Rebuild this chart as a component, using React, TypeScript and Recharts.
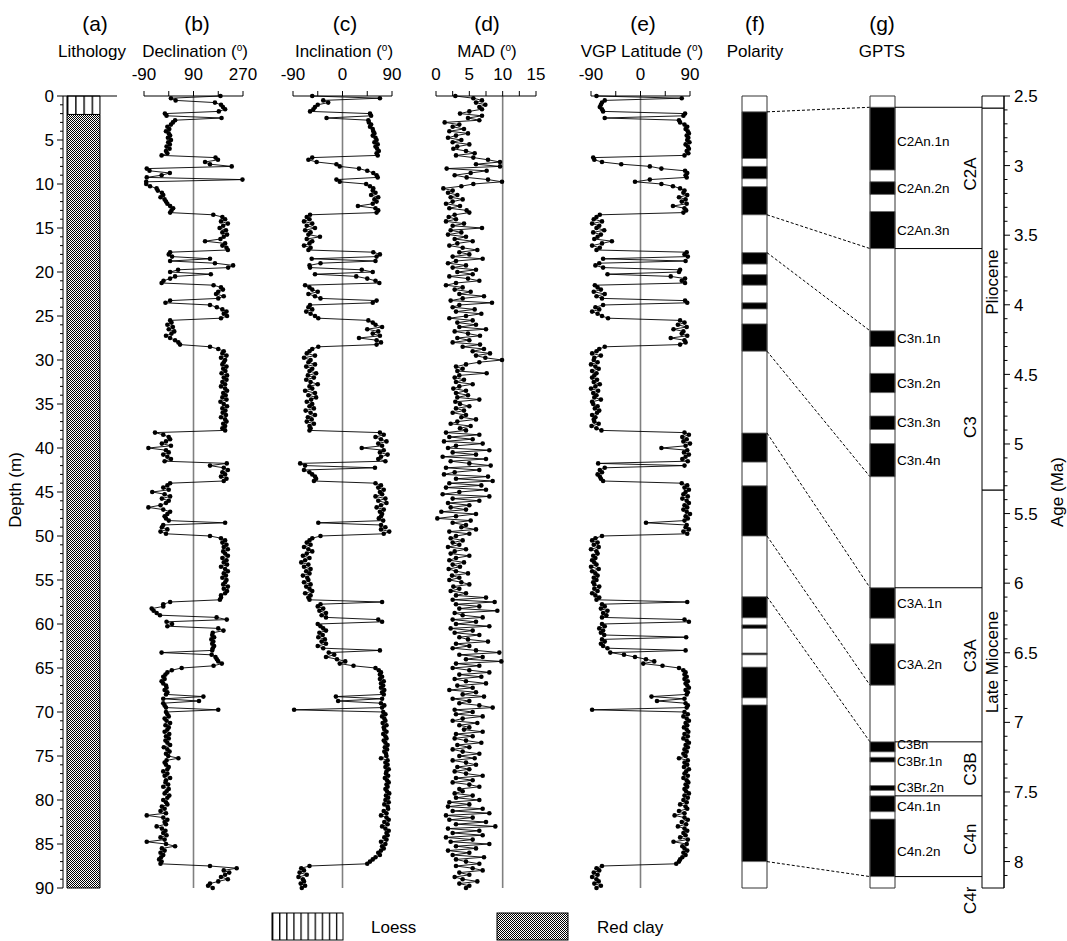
import React from 'react';
import { ScatterChart, Scatter, ComposedChart, XAxis, YAxis, ReferenceLine, ReferenceArea } from 'recharts';

const W = 1067;
const H = 941;
const PLOT_TOP = 96;
const PLOT_BOTTOM = 888;
const TOP_AXIS_H = 30;
const FONT = '"Liberation Sans", Arial, Helvetica, sans-serif';

// ---------------- data ----------------
const DEPTH = [
  0, 0.25, 0.5, 0.75, 1, 1.25, 1.5, 1.75, 2, 2.25, 2.5, 2.75, 3, 3.25, 3.5, 3.75, 4, 4.25, 4.5, 4.75,
  5, 5.25, 5.5, 5.75, 6, 6.25, 6.5, 6.75, 7, 7.25, 7.5, 7.75, 8, 8.25, 8.5, 8.75, 9, 9.25, 9.5, 9.75,
  10, 10.25, 10.5, 10.75, 11, 11.25, 11.5, 11.75, 12, 12.25, 12.5, 12.75, 13, 13.25, 13.5, 13.75, 14, 14.25, 14.5, 14.75,
  15, 15.25, 15.5, 15.75, 16, 16.25, 16.5, 16.75, 17, 17.25, 17.5, 17.75, 18, 18.25, 18.5, 18.75, 19, 19.25, 19.5, 19.75,
  20, 20.25, 20.5, 20.75, 21, 21.25, 21.5, 21.75, 22, 22.25, 22.5, 22.75, 23, 23.25, 23.5, 23.75, 24, 24.25, 24.5, 24.75,
  25, 25.25, 25.5, 25.75, 26, 26.25, 26.5, 26.75, 27, 27.25, 27.5, 27.75, 28, 28.25, 28.5, 28.75, 29, 29.25, 29.5, 29.75,
  30, 30.25, 30.5, 30.75, 31, 31.25, 31.5, 31.75, 32, 32.25, 32.5, 32.75, 33, 33.25, 33.5, 33.75, 34, 34.25, 34.5, 34.75,
  35, 35.25, 35.5, 35.75, 36, 36.25, 36.5, 36.75, 37, 37.25, 37.5, 37.75, 38, 38.25, 38.5, 38.75, 39, 39.25, 39.5, 39.75,
  40, 40.25, 40.5, 40.75, 41, 41.25, 41.5, 41.75, 42, 42.25, 42.5, 42.75, 43, 43.25, 43.5, 43.75, 44, 44.25, 44.5, 44.75,
  45, 45.25, 45.5, 45.75, 46, 46.25, 46.5, 46.75, 47, 47.25, 47.5, 47.75, 48, 48.25, 48.5, 48.75, 49, 49.25, 49.5, 49.75,
  50, 50.25, 50.5, 50.75, 51, 51.25, 51.5, 51.75, 52, 52.25, 52.5, 52.75, 53, 53.25, 53.5, 53.75, 54, 54.25, 54.5, 54.75,
  55, 55.25, 55.5, 55.75, 56, 56.25, 56.5, 56.75, 57, 57.25, 57.5, 57.75, 58, 58.25, 58.5, 58.75, 59, 59.25, 59.5, 59.75,
  60, 60.25, 60.5, 60.75, 61, 61.25, 61.5, 61.75, 62, 62.25, 62.5, 62.75, 63, 63.25, 63.5, 63.75, 64, 64.25, 64.5, 64.75,
  65, 65.25, 65.5, 65.75, 66, 66.25, 66.5, 66.75, 67, 67.25, 67.5, 67.75, 68, 68.25, 68.5, 68.75, 69, 69.25, 69.5, 69.75,
  70, 70.25, 70.5, 70.75, 71, 71.25, 71.5, 71.75, 72, 72.25, 72.5, 72.75, 73, 73.25, 73.5, 73.75, 74, 74.25, 74.5, 74.75,
  75, 75.25, 75.5, 75.75, 76, 76.25, 76.5, 76.75, 77, 77.25, 77.5, 77.75, 78, 78.25, 78.5, 78.75, 79, 79.25, 79.5, 79.75,
  80, 80.25, 80.5, 80.75, 81, 81.25, 81.5, 81.75, 82, 82.25, 82.5, 82.75, 83, 83.25, 83.5, 83.75, 84, 84.25, 84.5, 84.75,
  85, 85.25, 85.5, 85.75, 86, 86.25, 86.5, 86.75, 87, 87.25, 87.5, 87.75, 88, 88.25, 88.5, 88.75, 89, 89.25, 89.5, 89.75,
  90,
];

const DECLINATION = [
  188, 8, 25, 168, 190, 197, 205, 182, -14, -8, 192, 23, 15, 8, -5, 2, -10, 0, 5, -3,
  8, -2, 4, -8, 3, -10, -5, -26, 170, 179, 132, 150, 229, -80, -70, 4, -26, -80, 268, -82,
  -82, -68, -44, -40, -25, -20, -30, -15, -10, -5, 5, 16, 10, 5, 162, 195, 205, 190, 215, 198,
  185, 208, 195, 212, 200, 188, 132, 205, 195, 210, 215, 5, 0, 12, 150, 5, 168, 234, 216, 34,
  5, 153, 23, 5, -19, -26, 163, 190, 197, 180, 172, 200, 180, 5, -12, 150, 175, 195, 210, 200,
  212, 190, 5, 10, -5, 15, 0, 20, 10, -10, 5, 23, 35, 41, 150, 180, 200, 195, 210, 190,
  205, 200, 195, 210, 198, 206, 192, 212, 200, 210, 195, 205, 190, 205, 212, 198, 207, 195, 210, 188,
  200, 212, 195, 206, 196, 208, 190, 205, 210, 198, 205, 195, 205, -50, -20, 0, 5, -10, -25, 8,
  -74, -10, 0, -20, -5, 8, -15, 211, 150, 200, 215, 195, 205, 190, 210, 200, 5, -5, -20, 0,
  -60, -15, 5, -25, 0, -10, -30, -74, -20, 5, -5, -15, -10, 0, 205, -20, -25, -5, -30, -10,
  150, 190, 205, 195, 210, 200, 215, 198, 205, 215, 195, 210, 200, 212, 190, 205, 215, 200, 208, 195,
  210, 205, 198, 215, 200, 212, 205, 190, 190, 186, 5, -20, -20, -62, -55, -44, -32, 174, 211, -8,
  12, -5, 180, 199, 160, 158, 165, 155, 162, 158, 165, 160, 158, -26, 156, 170, 175, 180, 193, 163,
  47, 11, -5, -12, -20, -15, -26, -20, -10, -8, -15, -5, -10, 126, -20, 110, -20, -15, -10, 180,
  -10, -5, 0, -15, -8, 5, -12, 0, -5, -15, 2, -10, 0, -12, -5, 5, -18, -5, 3, -10,
  -2, 35, -8, -15, -10, 0, -5, -20, -5, -15, 5, -10, -12, -2, -20, 0, -8, -15, 2, -5,
  -20, -10, -5, -25, -15, -30, -10, -80, -20, -5, -15, -10, -44, -25, -12, -20, -8, -30, -15, -80,
  -10, 23, -25, -15, -30, -20, -28, -35, -26, -30, 150, 247, 200, 220, 205, 190, 215, 180, 150, 143,
  160,
];

const INCLINATION = [
  -55, 68, -35, -26, -45, -50, -53, -59, 50, 52, -29, 47, 48, 52, 50, 55, 56, 58, 55, 60,
  62, 58, 64, 60, 63, 66, 62, 64, -55, -62, -47, -11, -5, 30, 45, 56, 62, 64, -11, -5,
  43, 50, 56, 55, 60, 52, 65, 58, 62, 55, 28, 60, 65, 62, -59, -65, -60, -70, -55, -65,
  -50, -68, -58, -62, -41, -65, -55, -60, -70, -58, -62, 56, 68, 62, -56, 60, -40, -60, -59, 35,
  55, -50, 25, 45, 60, 67, -68, -60, -55, -45, -62, -50, -40, 62, 55, -59, -62, -55, -66, -58,
  -50, -44, 47, 55, 60, 72, 45, 65, 55, 68, 30, 62, 70, 62, -44, -55, -60, -65, -50, -70,
  -58, -62, -50, -66, -55, -60, -48, -63, -52, -66, -58, -45, -60, -55, -68, -50, -62, -48, -57, -65,
  -55, -60, -52, -67, -58, -50, -63, -56, -65, -52, -60, -58, -60, 68, 75, 60, 70, 80, 65, 72,
  35, 75, 68, 82, 70, 65, 78, -77, -68, 59, -70, -60, -55, -50, -48, -52, 60, 70, 65, 75,
  68, 72, 60, 78, 65, 80, 70, 62, 75, 68, 72, 70, 66, 74, -44, 70, 78, 70, 85, 75,
  -40, -55, -60, -65, -58, -70, -62, -55, -65, -72, -60, -68, -75, -62, -70, -58, -66, -60, -72, -64,
  -62, -70, -58, -66, -60, -55, -68, -58, -62, -60, 72, -40, -45, -35, -42, -30, -38, -30, 65, 72,
  -45, -40, -35, -30, -42, -36, -44, -32, -38, -30, -45, -35, 68, -25, -15, -30, -10, 5, -5, 20,
  60, 66, 70, 68, 72, 68, 75, 70, 74, 70, 76, 72, 75, -12, 72, -8, 70, 76, 72, -88,
  74, 78, 72, 76, 78, 73, 80, 75, 76, 80, 74, 78, 80, 75, 78, 82, 77, 81, 76, 79,
  80, 70, 82, 78, 82, 78, 84, 80, 79, 83, 77, 81, 84, 80, 82, 78, 81, 85, 79, 83,
  78, 84, 76, 82, 83, 75, 80, 70, 80, 84, 76, 82, 72, 78, 84, 80, 82, 76, 80, 70,
  78, 72, 75, 70, 65, 68, 60, 55, 50, 45, -60, -75, -70, -78, -65, -80, -72, -70, -76, -68,
  -74,
];

const MAD = [
  2.9, 5.6, 6.9, 6.0, 7.4, 6.5, 6.9, 5.0, 3.6, 6.9, 4.8, 6.5, 1.3, 3.5, 2.5, 4.2, 2.0, 4.8, 3.0, 1.8,
  3.8, 2.5, 5.0, 3.2, 2.6, 4.5, 5.8, 3.0, 5.6, 7.8, 9.6, 6.0, 9.6, 1.6, 7.6, 5.2, 2.8, 4.6, 7.8, 9.9,
  5.6, 3.8, 1.1, 2.5, 1.8, 3.2, 2.2, 4.0, 2.5, 1.5, 3.6, 2.0, 4.6, 5.0, 2.8, 1.9, 3.0, 1.5, 4.2, 2.5,
  6.9, 2.2, 3.8, 1.8, 4.5, 2.8, 5.5, 3.2, 2.0, 4.0, 6.2, 3.5, 5.0, 2.5, 7.0, 3.0, 1.8, 4.5, 2.5, 6.0,
  3.2, 5.5, 2.0, 4.8, 6.5, 3.0, 1.5, 4.0, 2.8, 5.2, 3.5, 7.2, 4.0, 2.2, 8.4, 3.5, 2.5, 5.8, 3.0, 6.8,
  4.5, 2.0, 5.5, 3.2, 6.0, 3.5, 7.5, 2.8, 4.8, 6.6, 3.2, 5.0, 2.5, 6.6, 4.0, 7.2, 5.5, 8.1, 6.0, 7.4,
  9.9, 6.5, 4.5, 3.0, 4.0, 3.2, 7.6, 3.5, 2.8, 4.2, 3.0, 5.5, 3.5, 2.6, 4.5, 3.0, 4.8, 3.2, 6.5, 2.9,
  3.6, 5.0, 3.0, 4.2, 2.5, 4.5, 3.8, 6.0, 3.2, 2.2, 5.2, 3.6, 4.5, 1.5, 6.5, 2.0, 5.5, 1.2, 7.0, 3.0,
  1.8, 8.0, 2.5, 6.0, 1.0, 7.5, 2.2, 5.0, 8.2, 1.5, 6.5, 2.8, 1.2, 7.8, 3.0, 8.5, 2.0, 6.8, 1.5, 7.5,
  3.5, 1.0, 8.0, 2.5, 6.5, 1.8, 5.0, 2.2, 4.5, 0.8, 6.0, 3.0, 0.2, 5.2, 2.5, 4.5, 3.8, 6.0, 2.0, 5.0,
  3.0, 2.2, 4.0, 2.5, 3.5, 1.8, 4.5, 2.8, 2.2, 5.0, 3.0, 2.0, 4.2, 2.5, 3.6, 1.9, 3.0, 4.8, 2.4, 3.5,
  2.0, 3.8, 5.0, 2.6, 3.5, 2.2, 4.5, 3.0, 7.5, 2.5, 8.8, 3.0, 6.5, 3.5, 9.2, 2.8, 4.0, 7.0, 2.5, 6.0,
  3.0, 8.0, 2.2, 5.5, 2.8, 6.5, 3.5, 4.8, 7.8, 3.0, 5.0, 2.5, 6.0, 9.5, 3.5, 7.0, 4.5, 9.8, 3.0, 6.5,
  2.5, 5.0, 8.0, 3.5, 6.8, 2.8, 4.5, 7.5, 3.2, 5.5, 2.0, 6.0, 4.0, 7.2, 2.5, 5.0, 3.5, 6.5, 8.5, 2.8,
  5.5, 3.0, 7.0, 4.0, 2.5, 6.2, 3.5, 5.0, 4.2, 7.0, 3.0, 5.5, 2.8, 4.5, 6.8, 3.2, 5.0, 2.5, 4.0, 6.5,
  3.5, 5.8, 2.5, 4.5, 6.0, 3.2, 5.0, 2.8, 4.5, 7.0, 3.0, 5.5, 2.5, 5.0, 6.5, 3.5, 4.0, 2.8, 5.5, 3.0,
  6.5, 2.0, 5.0, 1.8, 7.0, 2.5, 8.0, 1.5, 5.5, 2.0, 7.5, 3.0, 8.9, 1.8, 6.5, 2.5, 7.0, 1.5, 5.5, 2.2,
  8.0, 3.0, 6.0, 1.8, 5.0, 2.5, 7.2, 3.0, 4.5, 6.5, 3.0, 5.5, 7.0, 3.5, 5.0, 2.8, 4.0, 6.2, 3.5, 5.0,
  4.5,
];

const VGP_LATITUDE = [
  -80, 75, -65, -70, -72, -74, -70, -68, 81, 78, -65, 70, 72, 80, 85, 82, 86, 88, 84, 87,
  85, 89, 82, 86, 88, 84, 87, 80, -86, -84, -70, -35, 17, 38, 81, 85, 82, 84, 17, -10,
  38, 59, 72, 80, 78, 85, 70, 82, 75, 84, 59, 80, 83, 78, -74, -80, -85, -70, -88, -75,
  -80, -66, -86, -72, -78, -84, -52, -70, -88, -74, -80, 84, 80, 86, -68, 82, -75, -82, -68, 72,
  70, -60, 55, 81, 75, 81, -83, -78, -72, -85, -65, -80, -70, 81, 85, -68, -82, -75, -88, -78,
  -70, -59, 72, 80, 68, 84, 60, 78, 75, 85, 55, 80, 82, 72, -65, -75, -80, -88, -72, -84,
  -85, -78, -90, -82, -76, -88, -80, -84, -88, -79, -85, -74, -82, -90, -77, -86, -80, -84, -72, -88,
  -86, -78, -83, -75, -79, -88, -82, -85, -84, -76, -89, -80, -71, 80, 88, 76, 84, 78, 90, 82,
  38, 85, 79, 88, 82, 76, 86, -77, 80, -65, -74, -70, -78, -74, -72, -68, 75, 85, 80, 88,
  82, 78, 86, 76, 84, 88, 80, 85, 78, 84, 90, 82, 86, 80, 10, 84, 82, 88, 78, 85,
  -70, -82, -88, -78, -85, -76, -90, -80, -78, -86, -82, -88, -84, -80, -90, -76, -88, -82, -78, -85,
  -80, -86, -84, -75, -84, -78, -88, -82, -75, -80, 85, -70, -65, -72, -60, -68, -62, -70, 80, 88,
  -70, -65, -75, -68, -72, -66, 83, -70, -65, -72, -68, -60, 82, -55, -30, -10, 10, 25, 5, 40,
  70, 78, 82, 80, 84, 80, 86, 82, 85, 88, 82, 86, 84, 20, 80, 30, 82, 86, 84, -88,
  80, 86, 78, 84, 88, 82, 85, 79, 84, 87, 80, 86, 78, 84, 88, 82, 86, 80, 84, 78,
  82, 70, 86, 80, 85, 79, 88, 83, 80, 86, 78, 84, 87, 82, 85, 80, 83, 88, 80, 86,
  78, 84, 72, 82, 85, 70, 80, 62, 80, 86, 75, 83, 68, 80, 85, 78, 82, 72, 86, 60,
  84, 76, 80, 85, 78, 82, 76, 72, 70, 65, -70, -80, -75, -85, -78, -88, -80, -76, -84, -72,
  -80,
];

// Depth axis ticks
const DEPTH_TICKS = [
  0, 1, 2, 3, 4, 5, 6, 7, 8, 9, 10, 11, 12, 13, 14, 15, 16, 17, 18, 19, 20, 21, 22, 23, 24, 25, 26, 27, 28, 29,
  30, 31, 32, 33, 34, 35, 36, 37, 38, 39, 40, 41, 42, 43, 44, 45, 46, 47, 48, 49, 50, 51, 52, 53, 54, 55, 56, 57, 58, 59,
  60, 61, 62, 63, 64, 65, 66, 67, 68, 69, 70, 71, 72, 73, 74, 75, 76, 77, 78, 79, 80, 81, 82, 83, 84, 85, 86, 87, 88, 89, 90,
];
const DEPTH_LABELS = [0, 5, 10, 15, 20, 25, 30, 35, 40, 45, 50, 55, 60, 65, 70, 75, 80, 85, 90];

// Age axis ticks
const AGE_TICKS = [
  2.5, 2.6, 2.7, 2.8, 2.9, 3, 3.1, 3.2, 3.3, 3.4, 3.5, 3.6, 3.7, 3.8, 3.9, 4, 4.1, 4.2, 4.3, 4.4,
  4.5, 4.6, 4.7, 4.8, 4.9, 5, 5.1, 5.2, 5.3, 5.4, 5.5, 5.6, 5.7, 5.8, 5.9, 6, 6.1, 6.2, 6.3, 6.4,
  6.5, 6.6, 6.7, 6.8, 6.9, 7, 7.1, 7.2, 7.3, 7.4, 7.5, 7.6, 7.7, 7.8, 7.9, 8, 8.1,
];
const AGE_LABELS = [2.5, 3, 3.5, 4, 4.5, 5, 5.5, 6, 6.5, 7, 7.5, 8];

// Panel axes
const DEC_TICKS = [-90, 0, 90, 180, 270];
const DEC_LABELS = [-90, 90, 270];
const INC_TICKS = [-90, -45, 0, 45, 90];
const INC_LABELS = [-90, 0, 90];
const MAD_TICKS = [0, 2.5, 5, 7.5, 10, 12.5, 15];
const MAD_LABELS = [0, 5, 10, 15];
const VGP_TICKS = [-90, -45, 0, 45, 90];
const VGP_LABELS = [-90, 0, 90];

// Lithology (depth in m)
const LITH_NAMES = ['Loess', 'Red clay'];
const LITH_TOP = [0, 2.1];
const LITH_BOTTOM = [2.1, 90];
const LITH_PATTERN = ['loess', 'redclay'];

// Polarity column: normal-polarity intervals (depth, m)
const POLARITY_TOP = [1.8, 8.0, 10.3, 17.8, 20.3, 23.5, 25.9, 38.3, 44.3, 56.9, 60.1, 63.3, 64.9, 69.2];
const POLARITY_BOTTOM = [7.1, 9.4, 13.5, 19.1, 21.5, 24.2, 29.0, 41.6, 50.0, 59.3, 60.5, 63.5, 68.4, 87.0];

// GPTS normal chrons (Ma)
const CHRON_NAMES = ['C2An.1n', 'C2An.2n', 'C2An.3n', 'C3n.1n', 'C3n.2n', 'C3n.3n', 'C3n.4n', 'C3A.1n', 'C3A.2n', 'C3Bn', 'C3Br.1n', 'C3Br.2n', 'C4n.1n', 'C4n.2n'];
const CHRON_TOP = [2.581, 3.116, 3.33, 4.187, 4.493, 4.799, 4.997, 6.033, 6.436, 7.14, 7.251, 7.454, 7.528, 7.695];
const CHRON_BOTTOM = [3.032, 3.207, 3.596, 4.3, 4.631, 4.896, 5.235, 6.252, 6.733, 7.212, 7.285, 7.489, 7.642, 8.108];

// Chron groups
const GROUP_NAMES = ['C2A', 'C3', 'C3A', 'C3B', 'C4n', 'C4r'];
const GROUP_TOP = [2.581, 3.596, 6.033, 7.14, 7.528, 8.108];
const GROUP_BOTTOM = [3.596, 6.033, 7.14, 7.528, 8.108, 8.19];
const GROUP_LINES = [2.581, 3.596, 6.033, 7.14, 7.528, 8.108];

// Epochs
const EPOCH_NAMES = ['', 'Pliocene', 'Late Miocene'];
const EPOCH_TOP = [2.5, 2.588, 5.332];
const EPOCH_BOTTOM = [2.588, 5.332, 8.19];

// Tie lines: polarity depth (m) -> GPTS age (Ma)
const TIE_DEPTH = [1.8, 13.5, 17.8, 29.0, 38.3, 50.0, 56.9, 87.0];
const TIE_AGE = [2.581, 3.596, 4.187, 5.235, 6.033, 6.733, 7.14, 8.108];

// ---------------- layout ----------------
const DEPTH_DOMAIN: [number, number] = [0, 90];
const AGE_DOMAIN: [number, number] = [2.5, 8.19];
const LITH_PLOT = [63, 117];
const LITH_COL = [0.074, 0.685];
const DEPTH_AXIS_W = 45;
const DEC_PLOT = [144, 243];
const INC_PLOT = [293, 392];
const MAD_PLOT = [436, 536];
const VGP_PLOT = [591, 690];
const POL_PLOT = [742, 767];
const GPTS_PLOT = [870, 895];
const CHRON_PLOT = [895, 982];
const EPOCH_PLOT = [982, 1004];
const AGE_AXIS_W = 55;
const CHRON_LABEL_DY: Record<string, number> = { 'C2An.1n': 3, C3Bn: -1.5, 'C3Br.1n': 2.5, 'C4n.1n': 3, 'C4n.2n': 4 };
const CHRON_LABEL_SIZE: Record<string, number> = { C3Bn: 12.5, 'C3Br.1n': 12.5, 'C3Br.2n': 13 };
const GROUP_LABEL_DY: Record<string, number> = { C2A: -4, C3: 9, C3A: -9, C3B: 0, C4n: 3, C4r: 18 };
const EPOCH_LABEL_DY: Record<string, number> = { Pliocene: -17, 'Late Miocene': -27 };

const abs: React.CSSProperties = { position: 'absolute', left: 0, top: 0 };

const Dot = (p: any) => <circle cx={p.cx} cy={p.cy} r={2.3} fill="#000" />;
const NoShape = () => <g />;

const TopTick = (p: any) => {
  const v = p.payload?.value;
  if (!p.labels.includes(v)) return <g />;
  return (
    <text x={p.x} y={p.y} textAnchor="middle" fontSize={17} fontFamily={FONT} fill="#000">
      {v}
    </text>
  );
};

const DepthTick = (p: any) => {
  const v = p.payload?.value;
  const major = DEPTH_LABELS.includes(v);
  return (
    <g>
      <line x1={p.x} x2={p.x - (major ? 6 : 3)} y1={p.y} y2={p.y} stroke="#000" strokeWidth={1} />
      {major && (
        <text x={p.x - 9} y={p.y} dy="0.36em" textAnchor="end" fontSize={17} fontFamily={FONT} fill="#000">
          {v}
        </text>
      )}
    </g>
  );
};

const AgeTick = (p: any) => {
  const v = p.payload?.value;
  const major = AGE_LABELS.includes(v);
  return (
    <g>
      <line x1={p.x} x2={p.x + (major ? 6 : 3.5)} y1={p.y} y2={p.y} stroke="#000" strokeWidth={1} />
      {major && (
        <text x={p.x + 10} y={p.y} dy="0.36em" textAnchor="start" fontSize={17} fontFamily={FONT} fill="#000">
          {v}
        </text>
      )}
    </g>
  );
};

type PanelProps = {
  plot: number[];
  values: number[];
  domain: [number, number];
  ticks: number[];
  labels: number[];
  refX: number;
};

function DataPanel({ plot, values, domain, ticks, labels, refX }: PanelProps) {
  const data = DEPTH.map((d, i) => ({ depth: d, v: values[i] }));
  return (
    <div style={abs}>
      <ScatterChart
        width={W}
        height={H}
        margin={{ top: PLOT_TOP - TOP_AXIS_H, bottom: H - PLOT_BOTTOM, left: plot[0], right: W - plot[1] }}
      >
        <XAxis
          type="number"
          dataKey="v"
          domain={domain}
          ticks={ticks}
          interval={0}
          orientation="top"
          height={TOP_AXIS_H}
          tickSize={5}
          tickMargin={11}
          axisLine={{ stroke: '#000', strokeWidth: 1 }}
          tickLine={{ stroke: '#000', strokeWidth: 1 }}
          tick={<TopTick labels={labels} />}
        />
        <YAxis type="number" dataKey="depth" domain={DEPTH_DOMAIN} reversed hide />
        <ReferenceLine x={refX} stroke="#808080" strokeWidth={1.6} />
        <Scatter data={data} shape={Dot} line={{ stroke: '#000', strokeWidth: 0.9 }} isAnimationActive={false} />
      </ScatterChart>
    </div>
  );
}

// invisible series that registers the axes' extent (draws nothing)
function extentSeries(yDomain: [number, number]) {
  return (
    <Scatter
      key="extent"
      data={[
        { x: 0, y: yDomain[0] },
        { x: 1, y: yDomain[1] },
      ]}
      shape={NoShape}
      isAnimationActive={false}
    />
  );
}

function hiddenAxes(yDomain: [number, number]) {
  return [
    <XAxis key="x" type="number" dataKey="x" domain={[0, 1]} hide />,
    <YAxis key="y" type="number" dataKey="y" domain={yDomain} reversed hide />,
  ];
}

const ageAsDepth = (a: number) =>
  ((a - AGE_DOMAIN[0]) / (AGE_DOMAIN[1] - AGE_DOMAIN[0])) * (DEPTH_DOMAIN[1] - DEPTH_DOMAIN[0]) + DEPTH_DOMAIN[0];

const DegTitle = ({ x, y, text }: { x: number; y: number; text: string }) => (
  <text x={x} y={y} textAnchor="middle" fontSize={17} fontFamily={FONT} fill="#000">
    {text} (
    <tspan fontSize={10} dy={-6}>
      o
    </tspan>
    <tspan dy={6}>)</tspan>
  </text>
);

export default function App() {
  return (
    <div style={{ position: 'relative', width: W, height: H, background: '#fff', overflow: 'hidden' }}>
      <style>{'body{margin:0;background:#fff}'}</style>
      <svg width={0} height={0} style={{ position: 'absolute' }}>
        <defs>
          <pattern id="loess" patternUnits="userSpaceOnUse" width={8.2} height={10} x={67} y={0}>
            <rect width={8.2} height={10} fill="#fff" />
            <line x1={0.6} x2={0.6} y1={0} y2={10} stroke="#000" strokeWidth={1.6} />
          </pattern>
          <pattern id="loessLegend" patternUnits="userSpaceOnUse" width={7.1} height={10} x={272} y={0}>
            <rect width={7.1} height={10} fill="#fff" />
            <line x1={0.6} x2={0.6} y1={0} y2={10} stroke="#000" strokeWidth={1.4} />
          </pattern>
          <pattern id="redclay" patternUnits="userSpaceOnUse" width={2} height={2}>
            <rect width={2} height={2} fill="#fff" />
            <rect x={0} y={0} width={1} height={1} fill="#000" />
            <rect x={1} y={1} width={1} height={1} fill="#000" />
          </pattern>
        </defs>
      </svg>

      {/* (a) Lithology with depth axis */}
      <div style={abs}>
        <ComposedChart
          width={W}
          height={H}
          margin={{ top: PLOT_TOP, bottom: H - PLOT_BOTTOM, left: LITH_PLOT[0] - DEPTH_AXIS_W, right: W - LITH_PLOT[1] }}
        >
          <XAxis type="number" dataKey="x" domain={[0, 1]} hide />
          <YAxis
            type="number"
            dataKey="y"
            domain={DEPTH_DOMAIN}
            reversed
            width={DEPTH_AXIS_W}
            ticks={DEPTH_TICKS}
            interval={0}
            tickSize={0}
            tickMargin={0}
            tickLine={false}
            axisLine={{ stroke: '#000', strokeWidth: 1 }}
            tick={<DepthTick />}
          />
          {extentSeries(DEPTH_DOMAIN)}
          {LITH_NAMES.map((n, i) => (
            <ReferenceArea
              key={n}
              x1={LITH_COL[0]}
              x2={LITH_COL[1]}
              y1={LITH_TOP[i]}
              y2={LITH_BOTTOM[i]}
              fill={`url(#${LITH_PATTERN[i]})`}
              fillOpacity={1}
              stroke="#000"
              strokeWidth={1}
            />
          ))}
          <ReferenceLine y={0} stroke="#000" strokeWidth={1} />
        </ComposedChart>
      </div>

      <DataPanel plot={DEC_PLOT} values={DECLINATION} domain={[-90, 270]} ticks={DEC_TICKS} labels={DEC_LABELS} refX={90} />
      <DataPanel plot={INC_PLOT} values={INCLINATION} domain={[-90, 90]} ticks={INC_TICKS} labels={INC_LABELS} refX={0} />
      <DataPanel plot={MAD_PLOT} values={MAD} domain={[0, 15]} ticks={MAD_TICKS} labels={MAD_LABELS} refX={10} />
      <DataPanel plot={VGP_PLOT} values={VGP_LATITUDE} domain={[-90, 90]} ticks={VGP_TICKS} labels={VGP_LABELS} refX={0} />

      {/* (f) Polarity */}
      <div style={abs}>
        <ComposedChart
          width={W}
          height={H}
          margin={{ top: PLOT_TOP, bottom: H - PLOT_BOTTOM, left: POL_PLOT[0], right: W - POL_PLOT[1] }}
        >
          {hiddenAxes(DEPTH_DOMAIN)}
          {extentSeries(DEPTH_DOMAIN)}
          {POLARITY_TOP.map((t, i) => (
            <ReferenceArea key={i} y1={t} y2={POLARITY_BOTTOM[i]} fill="#000" fillOpacity={1} stroke="#666" strokeWidth={0.8} />
          ))}
          <ReferenceArea y1={DEPTH_DOMAIN[0]} y2={DEPTH_DOMAIN[1]} fill="none" fillOpacity={0} stroke="#333" strokeWidth={1} />
        </ComposedChart>
      </div>

      {/* tie lines */}
      <div style={abs}>
        <ComposedChart
          width={W}
          height={H}
          margin={{ top: PLOT_TOP, bottom: H - PLOT_BOTTOM, left: POL_PLOT[1], right: W - GPTS_PLOT[0] }}
        >
          {hiddenAxes(DEPTH_DOMAIN)}
          {extentSeries(DEPTH_DOMAIN)}
          {TIE_DEPTH.map((d, i) => (
            <ReferenceLine
              key={i}
              segment={[
                { x: 0, y: d },
                { x: 1, y: ageAsDepth(TIE_AGE[i]) },
              ]}
              stroke="#000"
              strokeWidth={1}
              strokeDasharray="3 2"
              ifOverflow="visible"
            />
          ))}
        </ComposedChart>
      </div>

      {/* (g) GPTS column */}
      <div style={abs}>
        <ComposedChart
          width={W}
          height={H}
          margin={{ top: PLOT_TOP, bottom: H - PLOT_BOTTOM, left: GPTS_PLOT[0], right: W - GPTS_PLOT[1] }}
        >
          {hiddenAxes(AGE_DOMAIN)}
          {extentSeries(AGE_DOMAIN)}
          {CHRON_TOP.map((t, i) => (
            <ReferenceArea key={i} y1={t} y2={CHRON_BOTTOM[i]} fill="#000" fillOpacity={1} stroke="#666" strokeWidth={0.8} />
          ))}
          <ReferenceArea y1={AGE_DOMAIN[0]} y2={AGE_DOMAIN[1]} fill="none" fillOpacity={0} stroke="#333" strokeWidth={1} />
        </ComposedChart>
      </div>

      {/* chron labels */}
      <div style={abs}>
        <ComposedChart
          width={W}
          height={H}
          margin={{ top: PLOT_TOP, bottom: H - PLOT_BOTTOM, left: CHRON_PLOT[0], right: W - CHRON_PLOT[1] }}
        >
          {hiddenAxes(AGE_DOMAIN)}
          {extentSeries(AGE_DOMAIN)}
          {GROUP_LINES.map((a) => (
            <ReferenceLine key={a} y={a} stroke="#000" strokeWidth={1} />
          ))}
          {CHRON_NAMES.map((n, i) => (
            <ReferenceArea
              key={n}
              y1={CHRON_TOP[i]}
              y2={CHRON_BOTTOM[i]}
              fill="none"
              fillOpacity={0}
              stroke="none"
              ifOverflow="visible"
              label={(lp: any) => {
                const vb = lp.viewBox || {};
                return (
                  <text
                    x={vb.x + 2}
                    y={vb.y + vb.height / 2 + (CHRON_LABEL_DY[n] || 0)}
                    dominantBaseline="central"
                    fontSize={CHRON_LABEL_SIZE[n] || 13.5}
                    fontFamily={FONT}
                    fill="#000"
                  >
                    {n}
                  </text>
                );
              }}
            />
          ))}
          {GROUP_NAMES.map((n, i) => (
            <ReferenceArea
              key={n}
              y1={GROUP_TOP[i]}
              y2={GROUP_BOTTOM[i]}
              fill="none"
              fillOpacity={0}
              stroke="none"
              ifOverflow="visible"
              label={(lp: any) => {
                const vb = lp.viewBox || {};
                const cx = vb.x + vb.width - 11;
                const cy = vb.y + vb.height / 2 + (GROUP_LABEL_DY[n] || 0);
                return (
                  <text
                    x={cx}
                    y={cy}
                    transform={`rotate(-90 ${cx} ${cy})`}
                    textAnchor="middle"
                    dominantBaseline="central"
                    fontSize={17}
                    fontFamily={FONT}
                    fill="#000"
                  >
                    {n}
                  </text>
                );
              }}
            />
          ))}
        </ComposedChart>
      </div>

      {/* epochs + age axis */}
      <div style={abs}>
        <ComposedChart
          width={W}
          height={H}
          margin={{ top: PLOT_TOP, bottom: H - PLOT_BOTTOM, left: EPOCH_PLOT[0], right: W - EPOCH_PLOT[1] - AGE_AXIS_W }}
        >
          <XAxis type="number" dataKey="x" domain={[0, 1]} hide />
          <YAxis
            type="number"
            dataKey="y"
            domain={AGE_DOMAIN}
            reversed
            orientation="right"
            width={AGE_AXIS_W}
            ticks={AGE_TICKS}
            interval={0}
            tickSize={0}
            tickMargin={0}
            tickLine={false}
            axisLine={{ stroke: '#000', strokeWidth: 1 }}
            tick={<AgeTick />}
          />
          {extentSeries(AGE_DOMAIN)}
          {EPOCH_NAMES.map((n, i) => (
            <ReferenceArea
              key={i}
              y1={EPOCH_TOP[i]}
              y2={EPOCH_BOTTOM[i]}
              fill="#fff"
              fillOpacity={1}
              stroke="#000"
              strokeWidth={1}
              label={(lp: any) => {
                if (!n) return <g />;
                const vb = lp.viewBox || {};
                const cx = vb.x + vb.width / 2;
                const cy = vb.y + vb.height / 2 + (EPOCH_LABEL_DY[n] || 0);
                return (
                  <text
                    x={cx}
                    y={cy}
                    transform={`rotate(-90 ${cx} ${cy})`}
                    textAnchor="middle"
                    dominantBaseline="central"
                    fontSize={17}
                    fontFamily={FONT}
                    fill="#000"
                  >
                    {n}
                  </text>
                );
              }}
            />
          ))}
        </ComposedChart>
      </div>

      {/* titles, axis names, legend */}
      <svg width={W} height={H} style={{ ...abs, pointerEvents: 'none' }}>
        <g fontFamily={FONT} fill="#000">
          <text x={95} y={31} textAnchor="middle" fontSize={21}>(a)</text>
          <text x={197} y={31} textAnchor="middle" fontSize={21}>(b)</text>
          <text x={345} y={31} textAnchor="middle" fontSize={21}>(c)</text>
          <text x={487} y={31} textAnchor="middle" fontSize={21}>(d)</text>
          <text x={643} y={31} textAnchor="middle" fontSize={21}>(e)</text>
          <text x={755} y={31} textAnchor="middle" fontSize={21}>(f)</text>
          <text x={882} y={31} textAnchor="middle" fontSize={21}>(g)</text>
          <text x={92} y={57} textAnchor="middle" fontSize={17}>Lithology</text>
          <DegTitle x={195} y={57} text="Declination" />
          <DegTitle x={344} y={57} text="Inclination" />
          <DegTitle x={487} y={57} text="MAD" />
          <DegTitle x={642} y={57} text="VGP Latitude" />
          <text x={755} y={57} textAnchor="middle" fontSize={17}>Polarity</text>
          <text x={882} y={57} textAnchor="middle" fontSize={17}>GPTS</text>
          <text x={15} y={490} transform="rotate(-90 15 490)" textAnchor="middle" dominantBaseline="central" fontSize={17}>
            Depth (m)
          </text>
          <text x={1057} y={492} transform="rotate(-90 1057 492)" textAnchor="middle" dominantBaseline="central" fontSize={17}>
            Age (Ma)
          </text>
          <rect x={272} y={913} width={71} height={27} fill="url(#loessLegend)" stroke="#000" strokeWidth={1} />
          <text x={371} y={927} dominantBaseline="central" fontSize={17}>{LITH_NAMES[0]}</text>
          <rect x={497} y={913} width={71} height={27} fill="url(#redclay)" stroke="#000" strokeWidth={1} />
          <text x={597} y={927} dominantBaseline="central" fontSize={17}>{LITH_NAMES[1]}</text>
        </g>
      </svg>
    </div>
  );
}
